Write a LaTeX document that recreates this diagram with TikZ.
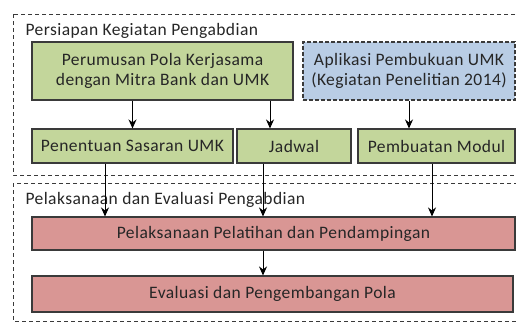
\documentclass[tikz,border=0pt]{standalone}
\usepackage{fontspec}
\setmainfont{Carlito}[LetterSpace=2.5]
\usetikzlibrary{arrows.meta}
\definecolor{hijau}{HTML}{C3D69B}
\definecolor{merah}{HTML}{D99694}
\definecolor{biru}{HTML}{B9CDE5}
\definecolor{garis}{HTML}{3A3A3A}
\definecolor{teks}{HTML}{262626}
\begin{document}
\begin{tikzpicture}[x=1pt,y=-1pt,>={Stealth[length=9pt,width=8pt]},
    kotak/.style={draw=garis,line width=1.1pt,align=center,inner sep=0pt,text=teks,
      font=\fontsize{17.5}{20}\selectfont},
    hijaubox/.style={kotak,fill=hijau},
    merahbox/.style={kotak,fill=merah},
    birubox/.style={kotak,fill=biru,dash pattern=on 4pt off 2pt},
    bingkai/.style={draw=garis,line width=0.8pt,dash pattern=on 4pt off 3pt},
    panah/.style={->,draw=black,line width=1pt},
    judul/.style={anchor=west,text=teks,font=\fontsize{17.5}{20}\selectfont}]
\useasboundingbox (0,0) rectangle (516,322);
% bingkai
\draw[bingkai](13,14) rectangle (530,175);
\draw[bingkai](13,183) rectangle (530,321);
\node[judul] (persiapan) at (22,31){Persiapan Kegiatan Pengabdian};
\node[judul] (pelaksanaan) at (22,200){Pelaksanaan dan Evaluasi Pengabdian};
% kotak
\node[hijaubox,minimum width=261pt,minimum height=58pt] (perumusan) at (162.5,71){Perumusan Pola Kerjasama\\dengan Mitra Bank dan UMK};
\node[birubox,minimum width=212pt,minimum height=58pt] (aplikasi) at (409,71){Aplikasi Pembukuan UMK\\(Kegiatan Penelitian 2014)};
\node[hijaubox,minimum width=201pt,minimum height=34pt] (penentuan) at (132.5,146){Penentuan Sasaran UMK};
\node[hijaubox,minimum width=114pt,minimum height=34pt] (jadwal) at (294,146){Jadwal};
\node[hijaubox,minimum width=157pt,minimum height=34pt] (modul) at (436.5,146){Pembuatan Modul};
\node[merahbox,minimum width=483pt,minimum height=33pt] (pelatihan) at (273.5,233.5){Pelaksanaan Pelatihan dan Pendampingan};
\node[merahbox,minimum width=481pt,minimum height=36pt] (evaluasi) at (272.5,294){Evaluasi dan Pengembangan Pola};
% panah
\draw[panah](penentuan.north |- perumusan.south)--(penentuan.north);
\draw[panah]([xshift=-24pt]jadwal.north |- perumusan.south)--([xshift=-24pt]jadwal.north);
\draw[panah](aplikasi.south)--(aplikasi.south |- modul.north);
\draw[panah]([xshift=-27.5pt]penentuan.south)--([xshift=-27.5pt]penentuan.south |- pelatihan.north);
\draw[panah]([xshift=-31pt]jadwal.south)--([xshift=-31pt]jadwal.south |- pelatihan.north);
\draw[panah]([xshift=-4.5pt]modul.south)--([xshift=-4.5pt]modul.south |- pelatihan.north);
\draw[panah]([xshift=-31pt]jadwal.south |- pelatihan.south)--([xshift=-31pt]jadwal.south |- evaluasi.north);
\end{tikzpicture}
\end{document}
